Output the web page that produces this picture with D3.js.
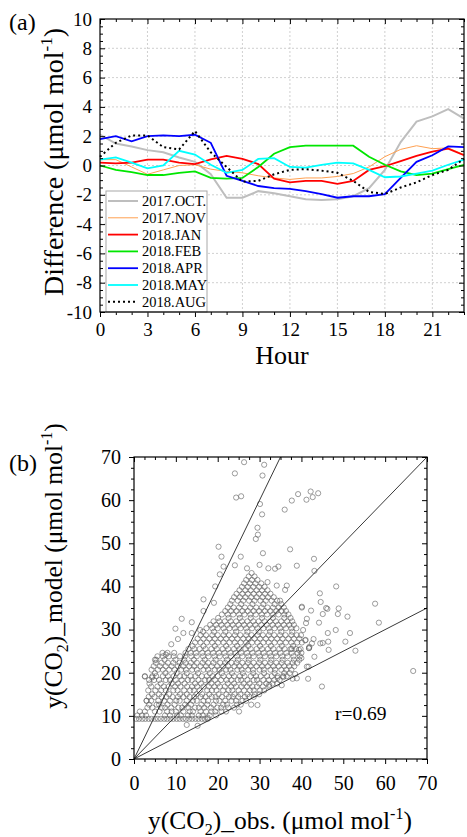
<!DOCTYPE html>
<html>
<head>
<meta charset="utf-8">
<script src="https://cdn.jsdelivr.net/npm/d3@7"></script>
<style>
  body { margin: 0; background: #fff; }
  svg, svg text { font-family: "Liberation Serif", "Times New Roman", serif; }
  .grid line { stroke: #c4c4c4; stroke-width: 0.8; stroke-dasharray: 2,2; }
  .axis line { stroke: #000; stroke-width: 1; }
  .axis path { display: none; }
</style>
</head>
<body>
<svg id="chart" width="467" height="837"></svg>
<script>
// ---- panel (a): hourly difference ----
const hours = [0,1,2,3,4,5,6,7,8,9,10,11,12,13,14,15,16,17,18,19,20,21,22,23];
const oct17 = [2.1,1.5,1.3,1.05,0.9,0.55,0.25,-0.6,-2.2,-2.2,-1.75,-1.9,-2.1,-2.3,-2.35,-2.3,-2.1,-1.55,-0.3,1.6,3.0,3.35,3.85,3.2];
const nov17 = [0.4,0.4,-0.1,-0.6,-0.3,0.0,0.05,-0.25,-0.4,-0.5,-0.7,-0.85,-0.95,-0.85,-0.85,-0.75,-0.55,-0.1,0.6,1.1,1.35,1.15,1.2,0.75];
const jan18 = [0.2,0.15,0.2,0.4,0.4,0.2,0.1,0.42,0.65,0.45,0.1,-0.9,-1.15,-1.05,-1.05,-1.25,-1.05,-0.3,-0.05,0.3,0.65,0.95,1.15,0.7];
const feb18 = [0,-0.3,-0.45,-0.65,-0.65,-0.5,-0.4,-0.85,-0.9,-0.85,-0.1,0.8,1.25,1.35,1.35,1.35,1.35,0.6,0.05,-0.4,-0.65,-0.55,-0.25,0.05];
const apr18 = [1.8,2.0,1.65,2.0,2.05,2.0,2.1,1.55,-0.7,-1.05,-1.4,-1.55,-1.6,-1.75,-1.95,-2.2,-2.1,-2.1,-1.95,-0.85,0.25,0.7,1.3,1.25];
const may18 = [0.4,0.55,0.2,-0.2,0.0,1.0,0.75,0.05,-0.5,-0.3,0.45,0.5,-0.1,-0.15,0.05,0.2,0.15,-0.3,-0.8,-0.75,-0.55,-0.35,0.05,0.4];
const aug18 = [0.6,1.55,2.05,2.05,1.25,1.1,2.35,0.9,-0.1,-1.1,-1.05,-0.6,-0.3,-0.25,-0.35,-0.5,-1.05,-1.8,-1.95,-1.5,-1.15,-0.65,-0.3,0.45];
const seriesNames = ["2017.OCT.","2017.NOV","2018.JAN","2018.FEB","2018.APR","2018.MAY","2018.AUG"];
const seriesData = [oct17, nov17, jan18, feb18, apr18, may18, aug18];
const seriesColors = ["#bebebe","#ffa050","#ff0000","#00e600","#0000ff","#00ffff","#000000"];
const seriesWidths = [2, 1, 1.8, 1.8, 1.8, 1.8, 2];
const seriesDash = [null, null, null, null, null, null, "2,3"];
const hourTicks = [0,3,6,9,12,15,18,21];
const diffTicks = [-10,-8,-6,-4,-2,0,2,4,6,8,10];

// ---- panel (b): model vs obs scatter ----
// dense cloud, read row by row: [y, x values]
const cloudRows = [
  [9.3,[0.5,1.2,2.0,2.7,3.5,4.2,5.0,5.7,6.4,7.2,7.9,8.7,9.4,10.2,10.9,11.7,12.4,13.2,13.9,14.7,15.4,16.2,16.9,17.6]],
  [10.1,[0.8,1.9,2.9,7.4,8.6,10.3,11.2,12.9,13.8,15.5,16.4,18.1,19.6]],
  [11.0,[1.4,2.6,5.0,6.1,7.9,9.0,10.0,11.8,13.3,14.1,15.9,17.2,18.5,19.4,20.9,22.0]],
  [11.9,[3.2,4.4,6.6,7.4,8.9,10.6,11.5,13.0,14.6,15.5,16.8,18.4,19.9,20.8,22.5,23.9]],
  [12.6,[3.6,5.4,6.0,8.0,9.7,12.2,13.6,16.1,17.5,19.0,21.3,22.2,24.6,25.5]],
  [13.5,[3.0,4.1,5.8,7.2,8.6,10.1,10.9,12.6,14.1,15.0,16.6,17.7,19.6,20.4,21.8,23.3,24.4,25.9,26.8]],
  [14.4,[3.5,4.9,6.6,7.7,9.2,10.5,11.8,13.3,14.4,15.9,17.1,18.6,19.5,21.0,22.7,23.6,24.9,26.5,27.6,28.6]],
  [15.0,[4.3,6.0,8.4,11.0,12.6,14.9,16.3,18.0,20.2,22.1,24.0,25.4,27.1,28.9,29.9]],
  [15.9,[3.4,5.1,6.5,7.6,9.4,10.4,12.0,13.4,14.3,15.7,17.5,18.6,19.7,21.3,22.6,23.5,25.0,26.3,27.7,28.6,30.1,31.1]],
  [16.8,[4.1,5.6,7.1,8.3,9.8,11.1,12.7,13.9,15.1,16.6,17.9,19.2,20.5,21.7,23.2,24.4,25.7,27.0,28.3,29.4,30.8,32.3]],
  [17.5,[3.7,6.4,9.0,10.5,12.1,14.6,16.0,18.5,20.0,22.4,23.9,26.2,27.6,29.9,31.6,33.1,34.2]],
  [18.3,[3.6,4.8,6.0,7.6,8.6,10.0,11.4,12.9,13.8,15.4,17.0,17.9,19.4,20.8,22.1,23.3,24.8,25.6,27.1,28.6,29.4,30.9,32.2,33.5,34.8]],
  [19.2,[2.6,4.4,5.3,6.9,8.1,9.5,11.0,12.0,13.5,14.7,16.2,17.4,18.8,20.0,21.4,22.7,23.9,25.3,26.4,27.9,29.1,30.3,31.8,32.9,34.3,35.6,36.5]],
  [19.9,[5.0,7.5,10.2,12.6,15.3,18.1,21.0,23.4,26.0,28.5,31.1,33.6,35.9,37.2]],
  [20.7,[4.2,5.7,6.9,8.4,9.7,11.3,12.4,13.9,15.0,16.6,17.7,19.3,20.4,22.0,23.0,24.7,25.7,27.3,28.4,30.0,31.0,32.6,33.7,35.2,36.4,37.6]],
  [21.5,[4.7,6.2,7.6,9.0,10.5,11.8,13.2,14.4,15.9,17.2,18.6,19.9,21.3,22.5,24.0,25.2,26.6,27.9,29.3,30.6,32.0,33.3,34.6,35.9,37.1,38.3]],
  [22.3,[5.2,6.6,8.1,9.4,10.9,12.3,13.6,15.0,16.4,17.7,19.0,20.6,21.8,23.3,24.5,25.9,27.2,28.6,29.9,31.3,32.6,34.0,35.3,36.7,37.9,39.0]],
  [23.0,[5.0,7.3,9.9,12.0,14.3,16.9,19.5,22.2,24.8,27.4,30.2,32.8,35.5,38.2,39.5]],
  [23.8,[5.6,6.9,8.3,9.5,11.0,12.2,13.7,15.0,16.5,17.8,19.2,20.5,21.9,23.2,24.6,25.9,27.3,28.6,30.0,31.3,32.7,34.0,35.4,36.7,38.1,39.6]],
  [24.6,[6.8,8.0,9.6,12.3,13.5,14.8,16.3,17.6,18.9,20.3,21.6,23.0,24.3,25.6,27.0,28.3,29.7,31.0,32.4,33.7,35.0,36.4,37.7,39.1,40.0]],
  [25.5,[13.0,14.4,15.7,17.1,18.5,19.8,21.2,22.5,23.9,25.2,26.6,27.9,29.3,30.6,32.0,33.3,34.7,36.0,37.4,38.7,39.8]],
  [26.2,[14.0,16.6,19.3,22.0,24.6,27.3,30.1,32.7,35.3,38.0]],
  [27.0,[14.6,15.9,17.4,18.7,20.1,21.4,22.8,24.1,25.5,26.8,28.2,29.5,30.9,32.2,33.6,34.9,36.3,37.6,39.0,40.1]],
  [27.9,[15.2,16.6,18.0,19.3,20.7,22.0,23.4,24.7,26.1,27.4,28.8,30.1,31.5,32.8,34.2,35.5,36.9,38.2,39.5]],
  [28.7,[15.9,17.2,18.7,20.0,21.4,22.7,24.1,25.4,26.8,28.1,29.5,30.8,32.2,33.5,34.9,36.2,37.6,38.9,39.9]],
  [29.5,[16.5,19.1,21.8,24.4,27.1,29.8,32.5,35.2,37.8]],
  [30.3,[17.3,18.7,20.0,21.4,22.8,24.1,25.5,26.8,28.2,29.5,30.9,32.2,33.6,34.9,36.3,37.6,38.8]],
  [31.1,[18.2,19.6,20.9,22.3,23.6,25.0,26.3,27.7,29.0,30.4,31.7,33.1,34.4,35.8,37.1,38.2]],
  [31.9,[19.0,20.4,21.7,23.1,24.4,25.8,27.1,28.5,29.8,31.2,32.5,33.9,35.2,36.6,37.8]],
  [32.7,[20.1,22.6,25.3,27.9,30.6,33.2,35.9,37.4]],
  [33.5,[21.0,22.4,23.7,25.1,26.4,27.8,29.1,30.5,31.8,33.2,34.5,35.9,36.9]],
  [34.3,[21.8,23.2,24.5,25.9,27.2,28.6,29.9,31.3,32.6,34.0,35.3,36.3]],
  [35.1,[22.4,23.8,25.1,26.5,27.8,29.2,30.5,31.9,33.2,34.6,35.8]],
  [35.9,[23.0,25.6,28.3,30.9,33.6,35.2]],
  [36.7,[23.4,24.8,26.1,27.5,28.8,30.2,31.5,32.9,34.2,34.9]],
  [37.5,[23.9,25.3,26.6,28.0,29.3,30.7,32.0,33.4]],
  [38.3,[24.5,25.9,27.2,28.6,29.9,31.3,32.6]],
  [39.1,[25.2,26.6,27.9,29.3,30.6,31.9]],
  [39.9,[25.8,27.2,28.5,29.9,31.2]],
  [40.7,[26.3,27.7,29.0,30.4]],
  [41.5,[26.8,28.2,29.5]],
  [42.3,[27.4,28.8]],
  [43.1,[28.1]]
];
// scattered points outside the dense cloud: [x, y]
const sparsePts = [
  [26.3,68.8],[31.1,68.2],[30.7,65.7],[24.1,66.2],[24.4,60.6],[25.6,60.9],[30.1,59.1],[30.6,56.7],
  [29.5,53.6],[29.6,52.0],[29.1,51.0],[30.8,47.7],[20.2,49.2],[20.9,46.9],[25.5,46.9],[21.4,44.6],
  [24.1,44.9],[20.5,42.8],[27.0,44.2],[30.0,45.0],[32.1,44.2],[33.7,44.1],[34.5,44.6],[36.0,57.8],
  [37.7,59.9],[39.2,61.4],[41.2,60.1],[42.2,62.0],[44.0,61.6],[42.7,60.7],[37.3,48.6],[38.9,44.8],
  [43.0,46.4],[43.1,43.6],[19.4,40.0],[16.6,37.0],[19.1,36.2],[16.6,34.3],[11.4,32.5],[13.8,31.7],
  [9.9,30.2],[11.8,29.2],[13.8,29.2],[15.8,29.9],[2.6,19.1],[4.3,18.9],[3.0,13.5],[29.5,12.5],
  [28.0,12.6],[25.1,11.0],[12.6,7.9],[15.2,7.7],[17.6,9.6],[48.3,40.0],[44.4,38.4],[36.1,39.2],
  [57.6,36.0],[44.6,36.4],[40.1,35.1],[45.9,35.0],[48.9,34.9],[58.5,31.6],[42.3,34.4],[45.1,33.6],
  [46.2,34.8],[48.7,33.6],[51.0,33.0],[41.1,31.5],[44.2,31.6],[48.2,29.9],[51.6,29.2],[46.3,29.2],
  [46.4,27.2],[45.1,26.9],[44.5,26.8],[42.9,27.8],[42.5,26.8],[40.9,27.5],[41.8,25.7],[50.5,27.2],
  [52.9,25.1],[46.5,25.3],[43.1,23.7],[41.7,21.4],[41.6,18.6],[38.5,19.7],[37.9,18.6],[35.7,19.0],
  [34.3,18.8],[35.3,17.1],[44.9,16.8],[66.7,20.4],[32.3,17.2],[40.0,23.4],[39.4,25.3],[37.7,25.5],
  [41.9,26.0],[5.3,23.0],[7.6,24.2],[34.1,40.2],[36.5,40.2],[31.9,41.0],[40.1,35.3],[41.3,32.5],
  [40.4,29.9],[41.0,27.6],[41.8,25.7],[41.3,21.4],[38.9,18.7],[8.9,26.6],[10.5,27.8]
];
const refSlopes = [2, 1, 0.5];
const co2Ticks = [0,10,20,30,40,50,60,70];

const svg = d3.select("#chart");
const font = "Liberation Serif";

function addAxis(g, axis, tx, ty, size) {
  const ax = g.append("g").attr("class", "axis").attr("transform", `translate(${tx},${ty})`).call(axis);
  ax.attr("font-family", font).attr("font-size", size);
  ax.selectAll("text").attr("font-family", font).style("font-family", font)
    .style("font-size", size + "px").attr("fill", "#000");
}

// ================= panel (a) =================
const xa = d3.scaleLinear().domain([0, 23]).range([100, 464]);
const ya = d3.scaleLinear().domain([-10, 10]).range([312, 19]);
const pa = svg.append("g");

const gridA = pa.append("g").attr("class", "grid");
gridA.selectAll(".gx").data(hourTicks.filter(d => d > 0)).join("line")
  .attr("class", "gx")
  .attr("x1", d => xa(d)).attr("x2", d => xa(d)).attr("y1", ya(10)).attr("y2", ya(-10));
gridA.selectAll(".gy").data(diffTicks.filter(d => d > -10 && d < 10)).join("line")
  .attr("class", "gy")
  .attr("x1", xa(0)).attr("x2", xa(23)).attr("y1", d => ya(d)).attr("y2", d => ya(d));

const line = d3.line().x((d, i) => xa(hours[i])).y(d => ya(d));
pa.selectAll(".series").data(seriesData).join("path")
  .attr("class", "series")
  .attr("fill", "none")
  .attr("stroke", (d, i) => seriesColors[i])
  .attr("stroke-width", (d, i) => seriesWidths[i])
  .attr("stroke-dasharray", (d, i) => seriesDash[i])
  .attr("d", line);

const minorHours = hours.filter(h => hourTicks.indexOf(h) < 0);
const minorDiff = d3.range(-10, 10.01, 0.5).filter(v => diffTicks.indexOf(v) < 0);

addAxis(pa, d3.axisBottom(xa).tickValues(hourTicks).tickSize(5).tickPadding(6).tickFormat(d => d), 0, 312, 19);
addAxis(pa, d3.axisBottom(xa).tickValues(minorHours).tickSize(3).tickFormat(""), 0, 312, 19);
addAxis(pa, d3.axisTop(xa).tickValues(hourTicks).tickSize(-5).tickFormat(""), 0, 19, 19);
addAxis(pa, d3.axisTop(xa).tickValues(minorHours).tickSize(-3).tickFormat(""), 0, 19, 19);
addAxis(pa, d3.axisLeft(ya).tickValues(diffTicks).tickSize(-5).tickPadding(8).tickFormat(d => String(d)), 100, 0, 19);
addAxis(pa, d3.axisLeft(ya).tickValues(minorDiff).tickSize(-3).tickFormat(""), 100, 0, 19);
addAxis(pa, d3.axisRight(ya).tickValues(diffTicks).tickSize(-5).tickFormat(""), 464, 0, 19);
addAxis(pa, d3.axisRight(ya).tickValues(minorDiff).tickSize(-3).tickFormat(""), 464, 0, 19);

// legend
const leg = pa.append("g");
leg.append("rect").attr("x", 106).attr("y", 191).attr("width", 101).attr("height", 121)
  .attr("fill", "#fff").attr("stroke", "#a8a8a8").attr("stroke-width", 1);
seriesNames.forEach((name, i) => {
  const y = 201 + i * 16.8;
  leg.append("line").attr("x1", 108).attr("x2", 138).attr("y1", y).attr("y2", y)
    .attr("stroke", seriesColors[i]).attr("stroke-width", seriesWidths[i])
    .attr("stroke-dasharray", seriesDash[i]);
  leg.append("text").attr("x", 142).attr("y", y + 5).attr("font-size", 14.5).text(name);
});

pa.append("rect").attr("x", 100).attr("y", 19).attr("width", 364).attr("height", 293)
  .attr("fill", "none").attr("stroke", "#000").attr("stroke-width", 1.2);

pa.append("text").attr("x", 9).attr("y", 30).attr("font-size", 24).text("(a)");
pa.append("text").attr("x", 282).attr("y", 364).attr("text-anchor", "middle")
  .attr("font-size", 26).text("Hour");
const yta = pa.append("text").attr("transform", "translate(63,162) rotate(-90)")
  .attr("text-anchor", "middle").attr("font-size", 28);
yta.append("tspan").text("Difference (\u03bcmol mol");
yta.append("tspan").attr("dy", -11).attr("font-size", 17).text("-1");
yta.append("tspan").attr("dy", 11).text(")");

// ================= panel (b) =================
const xb = d3.scaleLinear().domain([0, 70]).range([134, 427]);
const yb = d3.scaleLinear().domain([0, 70]).range([759, 457]);
const pb = svg.append("g");

const points = cloudRows.flatMap(([y, xs]) => xs.map(x => [x, y])).concat(sparsePts);
pb.append("g").selectAll("circle").data(points).join("circle")
  .attr("cx", d => xb(d[0])).attr("cy", d => yb(d[1])).attr("r", 2.6)
  .attr("fill", "none").attr("stroke", "#5a5a5a").attr("stroke-width", 0.6);

pb.selectAll(".ref").data(refSlopes).join("line")
  .attr("class", "ref")
  .attr("x1", xb(0)).attr("y1", yb(0))
  .attr("x2", s => xb(s >= 1 ? 70 / s : 70)).attr("y2", s => yb(s >= 1 ? 70 : 70 * s))
  .attr("stroke", "#222").attr("stroke-width", 0.9);

const minorCo2 = d3.range(0, 70.01, 2.5).filter(v => co2Ticks.indexOf(v) < 0);
addAxis(pb, d3.axisBottom(xb).tickValues(co2Ticks).tickSize(5).tickPadding(12).tickFormat(d => d), 0, 759, 20);
addAxis(pb, d3.axisBottom(xb).tickValues(minorCo2).tickSize(3).tickFormat(""), 0, 759, 20);
addAxis(pb, d3.axisTop(xb).tickValues(co2Ticks).tickSize(-5).tickFormat(""), 0, 457, 20);
addAxis(pb, d3.axisTop(xb).tickValues(minorCo2).tickSize(-3).tickFormat(""), 0, 457, 20);
addAxis(pb, d3.axisLeft(yb).tickValues(co2Ticks).tickSize(5).tickPadding(8).tickFormat(d => d), 134, 0, 20);
addAxis(pb, d3.axisLeft(yb).tickValues(minorCo2).tickSize(3).tickFormat(""), 134, 0, 20);
addAxis(pb, d3.axisRight(yb).tickValues(co2Ticks).tickSize(-5).tickFormat(""), 427, 0, 20);
addAxis(pb, d3.axisRight(yb).tickValues(minorCo2).tickSize(-3).tickFormat(""), 427, 0, 20);

pb.append("rect").attr("x", 134).attr("y", 457).attr("width", 293).attr("height", 302)
  .attr("fill", "none").attr("stroke", "#000").attr("stroke-width", 1.2);

pb.append("text").attr("x", 335).attr("y", 720).attr("font-size", 19.5).text("r=0.69");
pb.append("text").attr("x", 9).attr("y", 471).attr("font-size", 24).text("(b)");

function co2Label(g, rest) {
  g.append("tspan").text("y(CO");
  g.append("tspan").attr("dy", 6).attr("font-size", 16).text("2");
  g.append("tspan").attr("dy", -6).text(rest + " (\u03bcmol mol");
  g.append("tspan").attr("dy", -10).attr("font-size", 16).text("-1");
  g.append("tspan").attr("dy", 10).text(")");
}
co2Label(pb.append("text").attr("x", 280).attr("y", 829).attr("text-anchor", "middle")
  .attr("font-size", 25.5), ")_obs.");
co2Label(pb.append("text").attr("transform", "translate(62,566) rotate(-90)")
  .attr("text-anchor", "middle").attr("font-size", 25.5), ")_model");
</script>
</body>
</html>
